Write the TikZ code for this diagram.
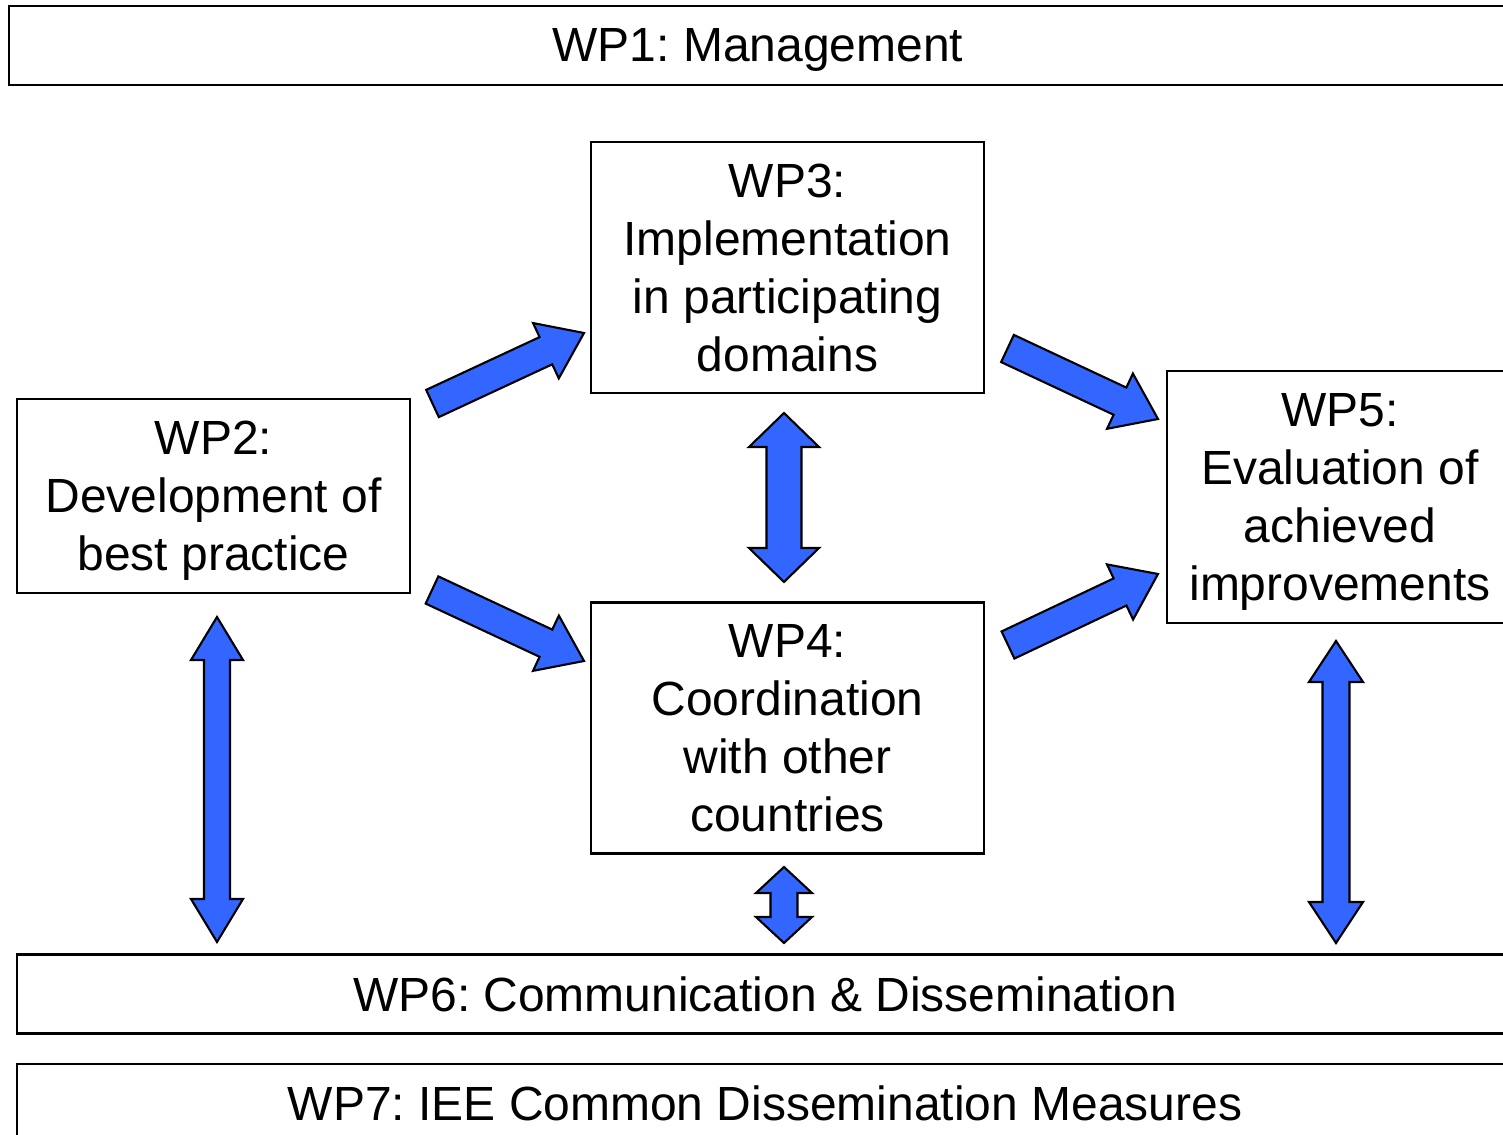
\documentclass[tikz,border=0pt]{standalone}
\usepackage{fontspec}
\setmainfont{Liberation Sans}
\usetikzlibrary{positioning,calc}
\frenchspacing

\definecolor{wpblue}{RGB}{51,102,255}

% fat arrow from #1 to #2 (half shaft #3, half head #4, head length #5)
\newcommand{\fatarrow}[5]{%
	\draw[blockarrow] let \p1=($(#2)-(#1)$), \n1={atan2(\y1,\x1)} in
	($(#1)+(\n1+90:#3)$) -- ($(#2)+(\n1+180:#5)+(\n1+90:#3)$)
	-- ($(#2)+(\n1+180:#5)+(\n1+90:#4)$) -- (#2)
	-- ($(#2)+(\n1+180:#5)+(\n1-90:#4)$) -- ($(#2)+(\n1+180:#5)+(\n1-90:#3)$)
	-- ($(#1)+(\n1-90:#3)$) -- cycle;}
% same with a head at both ends
\newcommand{\fatdoublearrow}[5]{%
	\draw[blockarrow] let \p1=($(#2)-(#1)$), \n1={atan2(\y1,\x1)} in
	(#1) -- ($(#1)+(\n1:#5)+(\n1+90:#4)$) -- ($(#1)+(\n1:#5)+(\n1+90:#3)$)
	-- ($(#2)+(\n1+180:#5)+(\n1+90:#3)$) -- ($(#2)+(\n1+180:#5)+(\n1+90:#4)$)
	-- (#2) -- ($(#2)+(\n1+180:#5)+(\n1-90:#4)$) -- ($(#2)+(\n1+180:#5)+(\n1-90:#3)$)
	-- ($(#1)+(\n1:#5)+(\n1-90:#3)$) -- ($(#1)+(\n1:#5)+(\n1-90:#4)$) -- cycle;}

\begin{document}
\begin{tikzpicture}[
		box/.style = {draw, line width=0.7pt, inner sep=0pt, align=center, text depth=0pt,
			font=\fontsize{13.65}{16.5}\selectfont},
		wide/.style = {box, minimum width=14.96cm, minimum height=0.79cm},
		wpbox/.style = {box, minimum width=3.93cm, minimum height=2.51cm},
		blockarrow/.style = {draw=black, fill=wpblue, line width=0.6pt, line join=miter}
		]
		\useasboundingbox (0,0) rectangle (15.03,-11.35);
		
		% work packages
		\node[wide, minimum width=14.98cm] at (7.58,-0.455) (wp1) {WP1: Management};
		\node[wpbox] at (7.875,-2.675) (wp3) {WP3:\\Implementation\\in participating\\domains};
		\node[wpbox, below= 2.07cm of wp3] (wp4) {WP4:\\Coordination\\with other\\countries};
		\node[wpbox, minimum height=1.94cm] at (2.135,-4.96) (wp2) {WP2:\\Development of\\best practice};
		\node[wpbox, minimum width=3.46cm, minimum height=2.52cm] at (13.40,-4.97) (wp5) {WP5:\\Evaluation of\\achieved\\improvements};
		\node[wide] at (7.65,-9.94) (wp6) {WP6: Communication \& Dissemination};
		\node[wide, below= 0.28cm of wp6] (wp7) {WP7: IEE Common Dissemination Measures};
		
		% arrow ends
		\coordinate (a23) at (4.325,-4.035);
		\coordinate (b23) at (5.84,-3.33);
		\coordinate (a24) at (4.32,-5.90);
		\coordinate (b24) at (5.84,-6.61);
		\coordinate (a35) at (10.075,-3.485);
		\coordinate (b35) at (11.58,-4.19);
		\coordinate (a45) at (10.08,-6.45);
		\coordinate (b45) at (11.58,-5.74);
		\coordinate (a34) at (7.84,-4.13);
		\coordinate (b34) at (7.84,-5.82);
		\coordinate (a26) at (2.17,-6.17);
		\coordinate (b26) at (2.17,-9.42);
		\coordinate (a46) at (7.84,-8.67);
		\coordinate (b46) at (7.84,-9.43);
		\coordinate (a56) at (13.36,-6.41);
		\coordinate (b56) at (13.36,-9.43);
		
		% flow between the work packages
		\fatarrow{a23}{b23}{0.15}{0.305}{0.42}
		\fatarrow{a24}{b24}{0.15}{0.305}{0.42}
		\fatarrow{a35}{b35}{0.15}{0.305}{0.42}
		\fatarrow{a45}{b45}{0.15}{0.305}{0.42}
		\fatdoublearrow{a34}{b34}{0.175}{0.35}{0.34}
		\fatdoublearrow{a26}{b26}{0.13}{0.26}{0.43}
		\fatdoublearrow{a46}{b46}{0.135}{0.28}{0.26}
		\fatdoublearrow{a56}{b56}{0.135}{0.27}{0.41}
	\end{tikzpicture}
\end{document}
